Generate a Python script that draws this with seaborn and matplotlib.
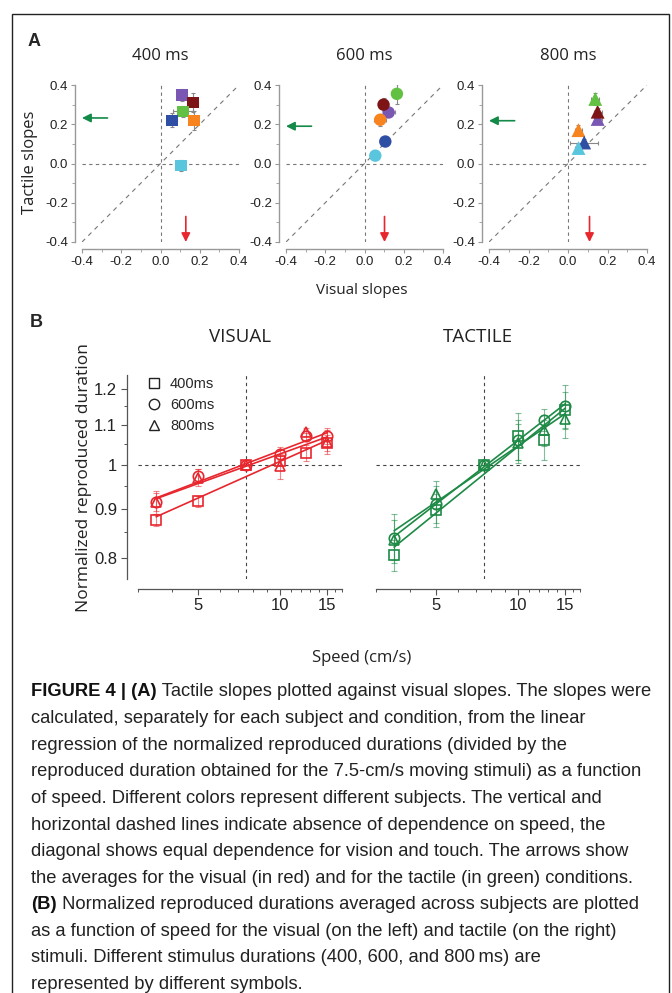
import numpy as np
import pandas as pd
import seaborn as sns
import matplotlib.pyplot as plt
from matplotlib.patches import Rectangle
from matplotlib.ticker import FixedLocator, NullFormatter

# ---- panel A data: slopes per subject (purple, dark red, green, orange, blue, cyan)
subj_colors = ['#7b57b4', '#7d1416', '#62c143', '#f7841f', '#2f4fa5', '#5ac6de']

a400_vis = [0.11, 0.165, 0.115, 0.17, 0.06, 0.105]
a400_tac = [0.35, 0.31, 0.265, 0.22, 0.22, -0.01]
a400_xerr = [0.025, 0.025, 0.05, 0.02, 0.025, 0.02]
a400_yerr = [0.03, 0.05, 0.03, 0.05, 0.035, 0.03]

a600_vis = [0.123, 0.097, 0.165, 0.08, 0.106, 0.055]
a600_tac = [0.26, 0.30, 0.355, 0.223, 0.112, 0.04]
a600_xerr = [0.03, 0.02, 0.02, 0.03, 0.02, 0.02]
a600_yerr = [0.02, 0.035, 0.05, 0.03, 0.015, 0.015]

a800_vis = [0.15, 0.15, 0.138, 0.053, 0.082, 0.053]
a800_tac = [0.227, 0.264, 0.329, 0.17, 0.107, 0.079]
a800_xerr = [0.02, 0.02, 0.02, 0.02, 0.07, 0.02]
a800_yerr = [0.02, 0.02, 0.03, 0.025, 0.02, 0.02]

mean_visual = [0.129, 0.102, 0.109]
mean_tactile = [0.232, 0.19, 0.218]
a_titles = ['400 ms', '600 ms', '800 ms']

# ---- panel B data: normalized reproduced duration vs speed
speeds = [3.5, 5, 7.5, 10, 12.5, 15]
vis_400 = [0.876, 0.916, 1.0, 1.008, 1.028, 1.053]
vis_600 = [0.914, 0.974, 1.0, 1.027, 1.07, 1.072]
vis_800 = [0.914, 0.969, 1.0, 0.996, 1.082, 1.057]
vis_400_err = [0.012, 0.012, 0.0, 0.012, 0.02, 0.02]
vis_600_err = [0.02, 0.015, 0.0, 0.015, 0.01, 0.02]
vis_800_err = [0.025, 0.02, 0.0, 0.03, 0.01, 0.03]

tac_400 = [0.805, 0.896, 1.0, 1.072, 1.062, 1.141]
tac_600 = [0.839, 0.909, 1.0, 1.062, 1.114, 1.15]
tac_800 = [0.835, 0.932, 1.0, 1.053, 1.087, 1.116]
tac_400_err = [0.03, 0.035, 0.0, 0.06, 0.05, 0.05]
tac_600_err = [0.05, 0.04, 0.0, 0.05, 0.03, 0.06]
tac_800_err = [0.04, 0.03, 0.0, 0.05, 0.04, 0.05]

durations = ['400ms', '600ms', '800ms']
dur_markers = ['s', 'o', '^']

caption = [
    ('FIGURE 4 | (A)', ' Tactile slopes plotted against visual slopes. The slopes were'),
    ('', 'calculated, separately for each subject and condition, from the linear'),
    ('', 'regression of the normalized reproduced durations (divided by the'),
    ('', 'reproduced duration obtained for the 7.5-cm/s moving stimuli) as a function'),
    ('', 'of speed. Different colors represent different subjects. The vertical and'),
    ('', 'horizontal dashed lines indicate absence of dependence on speed, the'),
    ('', 'diagonal shows equal dependence for vision and touch. The arrows show'),
    ('', 'the averages for the visual (in red) and for the tactile (in green) conditions.'),
    ('(B)', ' Normalized reproduced durations averaged across subjects are plotted'),
    ('', 'as a function of speed for the visual (on the left) and tactile (on the right)'),
    ('', 'stimuli. Different stimulus durations (400, 600, and 800\u2009ms) are'),
    ('', 'represented by different symbols.'),
]

sns.set_style("ticks")
plt.rcParams['font.family'] = ['Liberation Sans', 'DejaVu Sans']

W, H = 672, 993
fig = plt.figure(figsize=(W / 100, H / 100), dpi=100)


def px_axes(x0, y0, x1, y1):
    return fig.add_axes([x0 / W, 1 - y1 / H, (x1 - x0) / W, (y1 - y0) / H])


RED = '#e8262e'
GREEN = '#1e8a46'
ARROW_GREEN = '#138a48'
TITLE_FONT = ['Open Sans', 'DejaVu Sans']

# ---------------- panel A ----------------
a_sets = [
    (a400_vis, a400_tac, a400_xerr, a400_yerr, 's', 70),
    (a600_vis, a600_tac, a600_xerr, a600_yerr, 'o', 80),
    (a800_vis, a800_tac, a800_xerr, a800_yerr, '^', 100),
]
a_boxes = [(82, 85, 239, 242), (286, 85, 443, 242), (489, 85, 647, 242)]

for i, (vx, ty, xe, ye, mk, ms) in enumerate(a_sets):
    ax = px_axes(*a_boxes[i])
    ax.set_xlim(-0.4, 0.4)
    ax.set_ylim(-0.4, 0.4)
    ax.plot([0, 0], [-0.4, 0.4], ls=(0, (3, 3)), color='#777777', lw=0.8)
    ax.plot([-0.4, 0.4], [0, 0], ls=(0, (3, 3)), color='#777777', lw=0.8)
    ax.plot([-0.4, 0.4], [-0.4, 0.4], ls=(0, (4, 4)), color='#777777', lw=0.8)
    ax.errorbar(vx, ty, xerr=xe, yerr=ye, fmt='none', ecolor='#888888',
                elinewidth=0.8, capsize=1.5, capthick=0.8, zorder=2)
    df = pd.DataFrame({'vis': vx, 'tac': ty, 'subj': list(range(6))})
    sns.scatterplot(data=df, x='vis', y='tac', hue='subj', palette=subj_colors,
                    marker=mk, s=ms, edgecolor='none', legend=False, ax=ax, zorder=3)
    ax.annotate('', xy=(-0.4, mean_tactile[i]), xytext=(-0.27, mean_tactile[i]),
                arrowprops=dict(arrowstyle='-|>', color=ARROW_GREEN, lw=1.2,
                                mutation_scale=13, shrinkA=0, shrinkB=0))
    ax.annotate('', xy=(mean_visual[i], -0.4), xytext=(mean_visual[i], -0.27),
                arrowprops=dict(arrowstyle='-|>', color=RED, lw=1.2,
                                mutation_scale=13, shrinkA=0, shrinkB=0))
    ax.set_xticks([-0.4, -0.2, 0.0, 0.2, 0.4])
    ax.set_yticks([-0.4, -0.2, 0.0, 0.2, 0.4])
    ax.set_xticklabels(['-0.4', '-0.2', '0.0', '0.2', '0.4'])
    ax.set_yticklabels(['-0.4', '-0.2', '0.0', '0.2', '0.4'])
    ax.xaxis.set_minor_locator(FixedLocator([-0.3, -0.1, 0.1, 0.3]))
    ax.yaxis.set_minor_locator(FixedLocator([-0.3, -0.1, 0.1, 0.3]))
    ax.set_xlabel('')
    ax.set_ylabel('')
    for side in ['top', 'right']:
        ax.spines[side].set_visible(False)
    for side in ['left', 'bottom']:
        ax.spines[side].set_position(('outward', 5))
        ax.spines[side].set_color('#999999')
        ax.spines[side].set_linewidth(1.0)
    ax.tick_params(which='major', length=3, width=0.8, color='#999999',
                   labelsize=9.5, pad=2, labelcolor='#222222')
    ax.tick_params(which='minor', length=2, width=0.6, color='#999999')
    ax.set_title(a_titles[i], fontsize=12, family=TITLE_FONT, pad=18, color='#222222')

fig.text(28 / W, 1 - 41 / H, 'A', fontsize=13, fontweight='bold', va='center')
fig.text(30 / W, 1 - 162 / H, 'Tactile slopes', rotation=90, fontsize=12,
         family=TITLE_FONT, ha='center', va='center', color='#222222')
fig.text(362 / W, 1 - 291 / H, 'Visual slopes', fontsize=11, family=TITLE_FONT,
         ha='center', va='center', color='#222222')

# ---------------- panel B ----------------
b_sets = [
    ('VISUAL', RED, [vis_400, vis_600, vis_800], [vis_400_err, vis_600_err, vis_800_err],
     (138, 375, 342, 579)),
    ('TACTILE', GREEN, [tac_400, tac_600, tac_800], [tac_400_err, tac_600_err, tac_800_err],
     (376, 375, 580, 579)),
]

for j, (name, col, series, errs, box) in enumerate(b_sets):
    ax = px_axes(*box)
    ax.set_xscale('log')
    ax.set_yscale('log')
    ax.set_xlim(3, 17)
    ax.set_ylim(0.76, 1.24)
    ax.plot([7.5, 7.5], [0.76, 1.24], ls=(0, (3, 3)), color='#444444', lw=0.8)
    ax.plot([3, 17], [1, 1], ls=(0, (3, 3)), color='#444444', lw=0.8)
    lx = np.log10(speeds)
    for k in range(3):
        ly = np.log10(series[k])
        slope, icpt = np.polyfit(lx, ly, 1)
        fit_x = np.array([speeds[0], speeds[-1]])
        fit_y = 10 ** (icpt + slope * np.log10(fit_x))
        ax.plot(fit_x, fit_y, color=col, lw=1.2, zorder=2)
        ax.errorbar(speeds, series[k], yerr=errs[k], fmt='none', ecolor=col,
                    alpha=0.55, elinewidth=0.8, capsize=2, capthick=0.8, zorder=2)
        ax.plot(speeds, series[k], ls='none', marker=dur_markers[k], ms=7.5,
                mfc='none', mec=col, mew=1.2, zorder=3)
    ax.set_xticks([5, 10, 15])
    ax.set_xticklabels(['5', '10', '15'])
    ax.xaxis.set_minor_locator(FixedLocator([3, 4, 6, 7, 8, 9, 11, 12, 13, 14, 16, 17]))
    ax.xaxis.set_minor_formatter(NullFormatter())
    ax.set_yticks([0.8, 0.9, 1.0, 1.1, 1.2])
    ax.set_yticklabels(['0.8', '0.9', '1', '1.1', '1.2'])
    ax.yaxis.set_minor_locator(FixedLocator([0.85, 0.95, 1.05, 1.15]))
    ax.yaxis.set_minor_formatter(NullFormatter())
    for side in ['top', 'right']:
        ax.spines[side].set_visible(False)
    ax.spines['bottom'].set_position(('outward', 7))
    ax.spines['left'].set_position(('outward', 8))
    for side in ['left', 'bottom']:
        ax.spines[side].set_color('#555555')
        ax.spines[side].set_linewidth(0.9)
    ax.tick_params(which='major', length=4, width=0.8, color='#555555',
                   labelsize=12, pad=3, labelcolor='#222222')
    ax.tick_params(which='minor', length=2.5, width=0.7, color='#555555')
    if j == 1:
        ax.spines['left'].set_visible(False)
        ax.tick_params(axis='y', which='both', left=False, labelleft=False)
    else:
        for k in range(3):
            ax.plot([], [], ls='none', marker=dur_markers[k], ms=7.5, mfc='none',
                    mec='#222222', mew=1.0, label=durations[k])
        ax.legend(loc='upper left', frameon=False, fontsize=10.5, handletextpad=0.6,
                  borderaxespad=0.2, labelspacing=0.5, handlelength=1.0,
                  bbox_to_anchor=(0.0, 1.035))
    ax.set_title(name, fontsize=13.5, family=TITLE_FONT, pad=24, color='#222222')

fig.text(30 / W, 1 - 323 / H, 'B', fontsize=13, fontweight='bold', va='center')
fig.text(84 / W, 1 - 478 / H, 'Normalized reproduced duration', rotation=90,
         fontsize=12.5, family=TITLE_FONT, ha='center', va='center', color='#222222')
fig.text(362 / W, 1 - 658 / H, 'Speed (cm/s)', fontsize=12, family=TITLE_FONT,
         ha='center', va='center', color='#222222')

# ---------------- caption ----------------
cap = fig.add_axes([0, 0, 1, 1])
cap.axis('off')
cap.set_xlim(0, W)
cap.set_ylim(H, 0)
cap_font = ['Liberation Sans Narrow', 'Liberation Sans', 'DejaVu Sans']
y0 = 692
for n, (bold, rest) in enumerate(caption):
    y = y0 + n * 26.6
    if bold:
        t = cap.text(31, y, bold, fontsize=13.2, fontweight='bold', family=cap_font,
                     va='center', ha='left', color='#111111')
        cap.annotate(rest, xy=(1, 0.5), xycoords=t, va='center', ha='left',
                     fontsize=13.2, family=cap_font, color='#222222')
    else:
        cap.text(31, y, rest, fontsize=13.2, family=cap_font, va='center',
                 ha='left', color='#222222')

fig.patches.append(Rectangle((12 / W, -0.02), (669 - 12) / W, 1 - 14 / H + 0.02,
                             transform=fig.transFigure, fill=False, ec='#222222', lw=1.0))

fig.savefig('out.png', dpi=100)
